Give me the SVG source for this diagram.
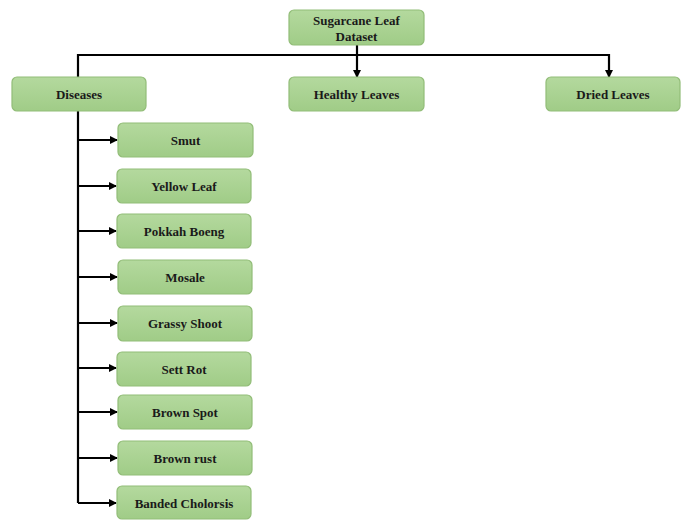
<svg xmlns="http://www.w3.org/2000/svg" width="687" height="520" viewBox="0 0 687 520">
<style>
.box{fill:url(#g);stroke:#92bd78;stroke-width:1.2}
.t{font-family:"Liberation Serif","Times New Roman",serif;font-weight:bold;font-size:13px;fill:#1a1a1a;text-anchor:middle}
.c{stroke:#000;stroke-width:2.2;fill:none}
</style>
<defs>
<linearGradient id="g" x1="0" y1="0" x2="0" y2="1">
<stop offset="0" stop-color="#b4d99e"/>
<stop offset="1" stop-color="#a0cc87"/>
</linearGradient>
<marker id="a" markerWidth="8" markerHeight="8" refX="7" refY="4" orient="auto" markerUnits="userSpaceOnUse">
<path d="M0,0 L8,4 L0,8 z" fill="#000"/>
</marker>
</defs>
<rect width="687" height="520" fill="#fff"/>
<g id="connectors">
<path class="c" d="M357,45 V55"/>
<path class="c" d="M78,77 V55 H609 V77" marker-end="url(#a)"/>
<path class="c" d="M357,55 V77" marker-end="url(#a)"/>
<path class="c" d="M78,111 V503"/>
<path class="c" d="M78,140 H117" marker-end="url(#a)"/>
<path class="c" d="M78,186 H116" marker-end="url(#a)"/>
<path class="c" d="M78,231 H116" marker-end="url(#a)"/>
<path class="c" d="M78,277 H117" marker-end="url(#a)"/>
<path class="c" d="M78,323 H117" marker-end="url(#a)"/>
<path class="c" d="M78,368 H116" marker-end="url(#a)"/>
<path class="c" d="M78,412 H117" marker-end="url(#a)"/>
<path class="c" d="M78,458 H117" marker-end="url(#a)"/>
<path class="c" d="M78,503 H116" marker-end="url(#a)"/>
</g>
<g id="root"><rect class="box" x="289" y="10" width="135" height="35" rx="5"/><text class="t" x="356.5" y="25">Sugarcane Leaf</text><text class="t" x="356.5" y="40.5">Dataset</text></g>
<g id="diseases"><rect class="box" x="12" y="77" width="134" height="34" rx="5"/><text class="t" x="79" y="99">Diseases</text></g>
<g id="healthy"><rect class="box" x="289" y="77" width="135" height="34" rx="5"/><text class="t" x="356.5" y="99">Healthy Leaves</text></g>
<g id="dried"><rect class="box" x="546" y="77" width="134" height="34" rx="5"/><text class="t" x="613" y="99">Dried Leaves</text></g>
<g id="smut"><rect class="box" x="118" y="123" width="135" height="34" rx="5"/><text class="t" x="185.5" y="145">Smut</text></g>
<g id="yellow"><rect class="box" x="117" y="169" width="134" height="34" rx="5"/><text class="t" x="184" y="191">Yellow Leaf</text></g>
<g id="pokkah"><rect class="box" x="117" y="214" width="134" height="34" rx="5"/><text class="t" x="184" y="236">Pokkah Boeng</text></g>
<g id="mosale"><rect class="box" x="118" y="260" width="134" height="34" rx="5"/><text class="t" x="185" y="282">Mosale</text></g>
<g id="grassy"><rect class="box" x="118" y="306" width="134" height="35" rx="5"/><text class="t" x="185" y="328">Grassy Shoot</text></g>
<g id="sett"><rect class="box" x="117" y="352" width="134" height="34" rx="5"/><text class="t" x="184" y="374">Sett Rot</text></g>
<g id="brownspot"><rect class="box" x="118" y="395" width="134" height="34" rx="5"/><text class="t" x="185" y="417">Brown Spot</text></g>
<g id="brownrust"><rect class="box" x="118" y="441" width="134" height="34" rx="5"/><text class="t" x="185" y="463">Brown rust</text></g>
<g id="banded"><rect class="box" x="117" y="486" width="134" height="33" rx="5"/><text class="t" x="184" y="508">Banded Cholorsis</text></g>
</svg>
